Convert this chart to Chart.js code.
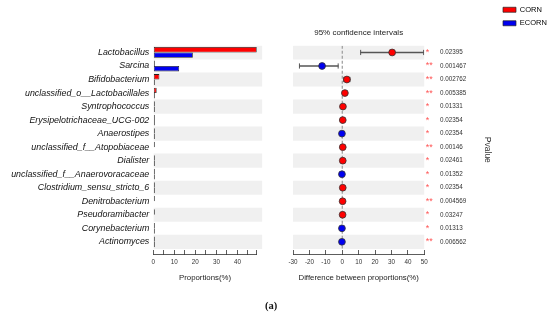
<!DOCTYPE html>
<html>
<head>
<meta charset="utf-8">
<script src="https://cdn.jsdelivr.net/npm/chart.js@4.4.1/dist/chart.umd.min.js"></script>
<style>
  body { margin: 0; background: #fff; width: 550px; height: 321px; overflow: hidden; position: relative; }
  #left { position: absolute; left: 0; top: 0; }
  #right { position: absolute; left: 280px; top: 0; }
  #tag { position: absolute; left: 265px; top: 300px; font: bold 10.5px 'Liberation Serif', serif; color: #111; }
</style>
</head>
<body>
<canvas id="left" width="280" height="321"></canvas>
<canvas id="right" width="270" height="321"></canvas>
<div id="tag">(a)</div>
<script>
  // taxa, top to bottom
  const taxa = [
    'Lactobacillus', 'Sarcina', 'Bifidobacterium', 'unclassified_o__Lactobacillales',
    'Syntrophococcus', 'Erysipelotrichaceae_UCG-002', 'Anaerostipes',
    'unclassified_f__Atopobiaceae', 'Dialister', 'unclassified_f__Anaerovoracaceae',
    'Clostridium_sensu_stricto_6', 'Denitrobacterium', 'Pseudoramibacter',
    'Corynebacterium', 'Actinomyces'
  ];
  const groups = ['CORN', 'ECORN'];

  // mean proportions (%)
  const cornPct = [49.2, 0.3, 2.9, 1.6, 0.4, 0.35, 0.1, 0.2, 0.35, 0.1, 0.35, 0.2, 0.2, 0.1, 0.1];
  const ecornPct = [18.8, 12.3, 0.2, 0.1, 0.05, 0.05, 0.3, null, 0.05, 0.3, 0.05, null, null, 0.3, 0.3];

  // difference between proportions with 95% CI
  const diffEst = [30.4, -12.3, 2.8, 1.6, 0.4, 0.3, -0.2, 0.3, 0.3, -0.2, 0.3, 0.2, 0.2, -0.2, -0.2];
  const ciLow = [11.2, -26.1, 0.9, 1.0, 0.1, 0.1, -0.4, 0.1, 0.05, -0.35, 0.05, 0.05, 0.05, -0.35, -0.35];
  const ciHigh = [49.6, -2.5, 4.7, 2.2, 0.7, 0.5, -0.05, 0.5, 0.55, -0.05, 0.55, 0.35, 0.35, -0.05, -0.05];

  const pValues = ['0.02395', '0.001467', '0.002762', '0.005385', '0.01331', '0.02354', '0.02354',
    '0.00146', '0.02461', '0.01352', '0.02354', '0.004569', '0.03247', '0.01313', '0.006562'];

  const propTicks = [0, 5, 10, 15, 20, 25, 30, 35, 40, 45, 49.2];
  const diffTicks = [-30, -20, -10, 0, 10, 20, 30, 40, 50];

  const RED = '#ff0000';
  const BLUE = '#0000f0';
  const BAND = '#f0f0f0';
  const FONT = "'Liberation Sans', Arial, sans-serif";

  Chart.defaults.font.family = FONT;

  const rows = taxa.map((_, i) => i);
  const bandRows = rows.filter(i => i % 2 === 0);
  const stars = pValues.map(p => (parseFloat(p) < 0.01 ? '**' : '*'));
  const rowTicks = scale => { scale.ticks = rows.map(i => ({ value: i })); };

  // shared row axis settings (linear so the axis can sit a little below the last row)
  const rowAxis = {
    type: 'linear', min: -0.5, max: 14.9, reverse: true, offset: false,
    afterBuildTicks: rowTicks
  };

  // Left panel: proportions
  new Chart(document.getElementById('left'), {
    type: 'bar',
    data: {
      datasets: [
        {
          label: 'band', indexAxis: 'y',
          data: bandRows.map(i => ({ x: [0, 51.6], y: i })),
          backgroundColor: BAND, grouped: false,
          barPercentage: 1, categoryPercentage: 1, order: 5,
          clip: { left: 0, top: 0, right: 6, bottom: 0 }
        },
        {
          label: groups[0], indexAxis: 'y',
          data: cornPct.map((v, i) => ({ x: v, y: i })),
          backgroundColor: RED, borderColor: '#222', borderWidth: 0.8,
          borderSkipped: false, minBarLength: 1.5,
          barPercentage: 1, categoryPercentage: 0.8, order: 1
        },
        {
          label: groups[1], indexAxis: 'y',
          data: ecornPct.map((v, i) => ({ x: v, y: i })),
          backgroundColor: BLUE, borderColor: '#222', borderWidth: 0.8,
          borderSkipped: false, minBarLength: 1.5,
          barPercentage: 1, categoryPercentage: 0.8, order: 1
        }
      ]
    },
    options: {
      indexAxis: 'y',
      responsive: false,
      animation: false,
      devicePixelRatio: 1,
      layout: { padding: { top: 45.7, right: 23.2, bottom: 30, left: 0 } },
      plugins: { legend: { display: false }, tooltip: { enabled: false } },
      scales: {
        y: {
          ...rowAxis,
          afterFit: s => { s.width = 153.3; },
          grid: { display: false, drawTicks: false, offset: false },
          border: { display: false },
          ticks: {
            autoSkip: false, padding: 4, color: '#111',
            font: { size: 8.9, style: 'italic' },
            callback: v => taxa[v]
          }
        },
        x: {
          type: 'linear', min: 0, max: 49.2,
          afterBuildTicks: s => { s.ticks = propTicks.map(v => ({ value: v })); },
          afterFit: s => { s.height = 37; },
          grid: { drawOnChartArea: false, tickLength: -4, tickColor: '#333', tickWidth: 0.8 },
          border: { color: '#333', width: 0.8 },
          ticks: {
            autoSkip: false, maxRotation: 0, padding: 8.5, color: '#333',
            font: { size: 6.3 },
            callback: v => (v % 10 === 0 ? v : '')
          },
          title: {
            display: true, text: 'Proportions(%)', color: '#222',
            font: { size: 7.8 }, padding: { top: 0, bottom: 8 }
          }
        }
      }
    }
  });

  // Right panel: difference with confidence intervals
  new Chart(document.getElementById('right'), {
    type: 'bar',
    data: {
      datasets: [
        {
          type: 'bar', indexAxis: 'y',
          data: bandRows.map(i => ({ x: [-30, 50], y: i })),
          backgroundColor: BAND, grouped: false,
          barPercentage: 1, categoryPercentage: 1, order: 5
        },
        {
          type: 'line', indexAxis: 'y',
          data: [{ x: 0, y: -0.5 }, { x: 0, y: 14.5 }],
          borderColor: '#9a9a9a', borderWidth: 1.2, borderDash: [3, 2],
          pointRadius: 0, order: 4
        },
        {
          type: 'bar', indexAxis: 'y',
          data: rows.map(i => ({ x: [ciLow[i], ciHigh[i]], y: i })),
          backgroundColor: '#555', barThickness: 1, order: 3
        },
        {
          type: 'line', indexAxis: 'y', showLine: false,
          data: rows.flatMap(i => [{ x: ciLow[i], y: i }, { x: ciHigh[i], y: i }]),
          pointStyle: 'line', pointRotation: 90, pointRadius: 2.6,
          pointBorderColor: '#555', pointBorderWidth: 1, borderColor: '#555', order: 2
        },
        {
          type: 'line', indexAxis: 'y', showLine: false,
          data: rows.map(i => ({ x: diffEst[i], y: i })),
          pointRadius: 3.4,
          pointBackgroundColor: diffEst.map(d => (d > 0 ? RED : BLUE)),
          pointBorderColor: '#333', pointBorderWidth: 0.8, order: 1
        }
      ]
    },
    options: {
      indexAxis: 'y',
      responsive: false,
      animation: false,
      devicePixelRatio: 1,
      layout: { padding: { top: 0, right: 0, bottom: 30, left: 7.3 } },
      plugins: {
        tooltip: { enabled: false },
        title: {
          display: true, text: '95% confidence intervals', fullSize: false,
          color: '#222', font: { size: 8, weight: 'normal' },
          padding: { top: 28.2, bottom: 7.9 }
        },
        legend: {
          position: 'right', align: 'start', maxWidth: 53,
          labels: {
            boxWidth: 13, boxHeight: 5, padding: 6, color: '#222',
            font: { size: 7.5 },
            generateLabels: () => groups.map((g, k) => ({
              text: g, fillStyle: k === 0 ? RED : BLUE,
              strokeStyle: '#222', lineWidth: 0.7, hidden: false, datasetIndex: k
            }))
          }
        }
      },
      scales: {
        x: {
          type: 'linear', min: -30, max: 50,
          afterBuildTicks: s => { s.ticks = diffTicks.map(v => ({ value: v })); },
          afterFit: s => { s.height = 37; },
          grid: { drawOnChartArea: false, tickLength: -4, tickColor: '#333', tickWidth: 0.8 },
          border: { color: '#333', width: 0.8 },
          ticks: { autoSkip: false, maxRotation: 0, padding: 8.5, color: '#333', font: { size: 6.3 } },
          title: {
            display: true, text: 'Difference between proportions(%)', color: '#222',
            font: { size: 7.8 }, padding: { top: 0, bottom: 8 }
          }
        },
        y: {
          ...rowAxis, display: false
        },
        ys: {
          ...rowAxis, position: 'right', weight: 0,
          afterFit: s => { s.width = 12; },
          grid: { display: false, drawTicks: false },
          border: { display: false },
          ticks: { autoSkip: false, padding: 1.5, color: '#ff5555', font: { size: 9 }, callback: v => stars[v] }
        },
        yp: {
          ...rowAxis, position: 'right', weight: 1,
          afterFit: s => { s.width = 60.7; },
          grid: { display: false, drawTicks: false },
          border: { display: false },
          ticks: { autoSkip: false, padding: 3.7, color: '#333', font: { size: 6.3 }, callback: v => pValues[v] },
          title: {
            display: true, text: 'Pvalue', color: '#333',
            font: { size: 8.5 }, padding: { top: 4.4, bottom: 0 }
          }
        }
      }
    }
  });
</script>
</body>
</html>
